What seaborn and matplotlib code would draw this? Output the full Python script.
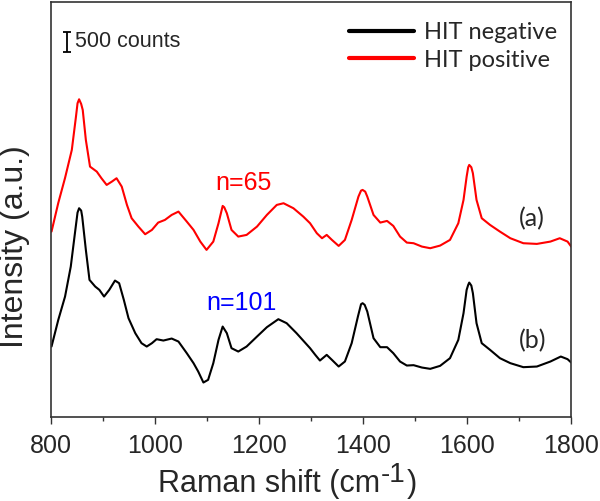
import numpy as np
import pandas as pd
import matplotlib
matplotlib.use('Agg')
import matplotlib.pyplot as plt
import seaborn as sns

# ----- DATA (intensity in counts) -----
pos_shift = [801, 814, 827, 840, 848, 851, 854, 858, 861, 867, 875, 888, 897, 907, 917, 926,
             936, 946, 955, 968, 981, 994, 1006, 1019, 1032, 1045, 1061, 1074, 1087, 1099,
             1112, 1122, 1130, 1133, 1138, 1147, 1160, 1176, 1196, 1215, 1234, 1247, 1266,
             1285, 1298, 1311, 1321, 1330, 1340, 1353, 1365, 1378, 1391, 1396, 1399, 1404,
             1408, 1420, 1433, 1446, 1458, 1471, 1484, 1497, 1513, 1529, 1548, 1567, 1583,
             1593, 1599, 1602, 1604, 1608, 1611, 1618, 1628, 1644, 1663, 1683, 1708, 1734,
             1760, 1778, 1793, 1800]
pos_counts = [4633, 5350, 5975, 6675, 7508, 7842, 7942, 7825, 7675, 6925, 6258, 6133, 5967,
              5800, 5883, 5967, 5758, 5300, 4967, 4758, 4567, 4675, 4858, 4925, 5050, 5133,
              4883, 4675, 4383, 4175, 4383, 4842, 5275, 5242, 5092, 4675, 4508, 4550, 4758,
              5050, 5300, 5342, 5217, 5008, 4842, 4592, 4467, 4550, 4425, 4275, 4425, 4925,
              5508, 5658, 5675, 5633, 5508, 5050, 4858, 4900, 4775, 4508, 4358, 4342, 4258,
              4217, 4283, 4425, 4842, 5425, 6008, 6242, 6300, 6242, 6092, 5425, 4967, 4800,
              4633, 4467, 4342, 4325, 4383, 4467, 4383, 4258]

neg_shift = [801, 814, 827, 838, 846, 851, 854, 858, 860, 867, 874, 885, 893, 902, 912, 923,
             931, 940, 949, 962, 974, 984, 994, 1003, 1016, 1032, 1045, 1061, 1074, 1083,
             1093, 1102, 1112, 1122, 1130, 1138, 1147, 1160, 1176, 1196, 1215, 1237, 1253,
             1272, 1298, 1308, 1317, 1330, 1340, 1353, 1365, 1378, 1390, 1396, 1399, 1403,
             1408, 1420, 1433, 1446, 1458, 1471, 1484, 1497, 1513, 1529, 1548, 1567, 1583,
             1593, 1599, 1602, 1604, 1608, 1611, 1618, 1628, 1644, 1663, 1683, 1708, 1734,
             1760, 1780, 1793, 1800]
neg_counts = [1758, 2425, 3008, 3758, 4592, 5108, 5217, 5158, 5008, 4175, 3425, 3258, 3175,
              3008, 3175, 3408, 3342, 2925, 2467, 2092, 1842, 1758, 1842, 1942, 1908, 1958,
              1883, 1592, 1342, 1133, 858, 925, 1342, 1925, 2258, 2092, 1717, 1633, 1758,
              2008, 2242, 2442, 2342, 2092, 1717, 1550, 1408, 1550, 1425, 1258, 1383, 1842,
              2508, 2817, 2842, 2800, 2633, 1967, 1742, 1742, 1592, 1383, 1283, 1292, 1233,
              1200, 1275, 1467, 1925, 2592, 3175, 3300, 3358, 3283, 3092, 2342, 1842, 1675,
              1467, 1342, 1242, 1258, 1383, 1508, 1442, 1358]

groups = ['HIT negative', 'HIT positive']
colors = ['black', '#ff0000']
n_labels = ['n=101', 'n=65']
curve_tags = ['(b)', '(a)']

df = pd.concat([
    pd.DataFrame({'shift': neg_shift, 'counts': neg_counts, 'group': groups[0]}),
    pd.DataFrame({'shift': pos_shift, 'counts': pos_counts, 'group': groups[1]}),
])

# ----- PLOT -----
sns.set_style('ticks')
plt.rcParams['font.family'] = ['Liberation Sans', 'DejaVu Sans']

fig = plt.figure(figsize=(6.0, 5.01), dpi=100)
ax = fig.add_axes([0.085, 0.168, 0.867, 0.828])

sns.lineplot(data=df, x='shift', y='counts', hue='group', hue_order=groups,
             palette=dict(zip(groups, colors)), linewidth=1.5, sort=False, ax=ax)

ax.set_xlim(800, 1800)
ax.set_ylim(0, 10375)
ax.set_xticks(np.arange(800, 1801, 200))
ax.set_xticks(np.arange(900, 1800, 200), minor=True)
ax.set_yticks([])
ax.tick_params(axis='x', which='major', length=5, width=1, direction='out',
               labelsize=18, pad=7.5, color='#333333')
ax.tick_params(axis='x', which='minor', length=3, width=1, direction='out', color='#333333')
for s in ax.spines.values():
    s.set_color('#333333')
    s.set_linewidth(1.2)

# x label with a full-size raised "-1"
ax.set_xlabel('')
t1 = ax.annotate('Raman shift (cm', xy=(0.206, -0.181), xycoords='axes fraction',
                 fontsize=22, ha='left', va='baseline')
t2 = ax.annotate('-1', xy=(1, 0), xycoords=t1, xytext=(0.5, 7.5), textcoords='offset points',
                 fontsize=20, ha='left', va='bottom')
ax.annotate(')', xy=(1, 0), xycoords=(t2, t1), xytext=(0.5, 0), textcoords='offset points',
            fontsize=22, ha='left', va='bottom')

ax.set_ylabel('Intensity (a.u.)', fontsize=23)
ax.yaxis.set_label_coords(-0.040, 0.41)

# legend
handles, labels = ax.get_legend_handles_labels()
leg = ax.legend(handles, labels, loc='upper right', bbox_to_anchor=(1.011, 1.0),
                frameon=False, handlelength=2.75, handletextpad=0.42,
                labelspacing=0.28, borderaxespad=0.45, prop={'family': 'Lato', 'size': 17})
for h in leg.get_lines():
    h.set_linewidth(3)

# scale bar: 500 counts
ax.errorbar([831], [9375], yerr=[250], color='black', capsize=2.6, elinewidth=1.3, capthick=1.3)
ax.text(846, 9375, '500 counts', fontsize=15.5, va='center', ha='left')

# annotations
ax.text(1170, 5675, n_labels[1], color='#ff0000', fontsize=18, ha='center', va='baseline')
ax.text(1167, 2675, n_labels[0], color='#0000ff', fontsize=18, ha='center', va='baseline')
ax.text(1725, 4775, curve_tags[1], fontsize=18, ha='center', va='baseline', family='Lato')
ax.text(1725, 1725, curve_tags[0], fontsize=18, ha='center', va='baseline', family='Lato')

fig.savefig('out.png', dpi=100)
